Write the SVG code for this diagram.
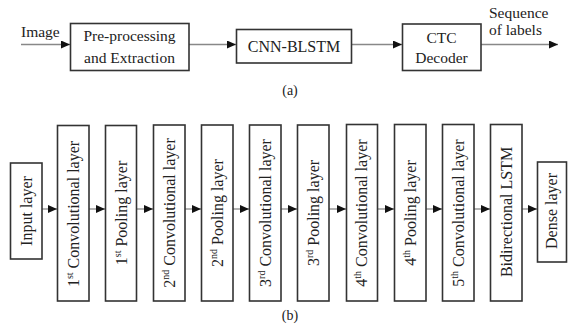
<svg xmlns="http://www.w3.org/2000/svg" width="568" height="328" viewBox="0 0 568 328">
<defs>
<marker id="ah" markerUnits="userSpaceOnUse" markerWidth="10" markerHeight="9" refX="9" refY="4" orient="auto">
<path d="M0,0 L9,4 L0,8 z" fill="#111"/>
</marker>
<style>
.box{fill:#fff;stroke:#333;stroke-width:1.6}
.t{font-family:"Liberation Serif","Times New Roman",serif;font-size:16px;fill:#222}
.c{text-anchor:middle}
.ln{stroke:#888;stroke-width:1.3;fill:none;marker-end:url(#ah)}
.sup{font-size:10px}
</style>
</defs>
<rect width="568" height="328" fill="#fff"/>

<g id="connectors">
<line class="ln" x1="21" y1="44.5" x2="70" y2="44.5"/>
<line class="ln" x1="189" y1="44.5" x2="236" y2="44.5"/>
<line class="ln" x1="352" y1="44.5" x2="402" y2="44.5"/>
<line class="ln" x1="481" y1="44.5" x2="558" y2="44.5"/>

<line class="ln" x1="42" y1="209" x2="57" y2="209"/>
<line class="ln" x1="89" y1="209" x2="105" y2="209"/>
<line class="ln" x1="137" y1="209" x2="153" y2="209"/>
<line class="ln" x1="185" y1="209" x2="201" y2="209"/>
<line class="ln" x1="233" y1="209" x2="249" y2="209"/>
<line class="ln" x1="281" y1="209" x2="297" y2="209"/>
<line class="ln" x1="329" y1="209" x2="346" y2="209"/>
<line class="ln" x1="378" y1="209" x2="394" y2="209"/>
<line class="ln" x1="426" y1="209" x2="442" y2="209"/>
<line class="ln" x1="474" y1="209" x2="490" y2="209"/>
<line class="ln" x1="522" y1="209" x2="537" y2="209"/>
</g>

<text class="t" x="21" y="37" style="font-size:15.5px">Image</text>
<text class="t" x="489" y="18" style="font-size:15.5px">Sequence</text>
<text class="t" x="489" y="35" style="font-size:15.5px">of labels</text>

<g id="preproc">
<rect class="box" x="70.5" y="23.5" width="118.5" height="47"/>
<text class="t c" x="129.5" y="40.5" style="font-size:15.5px">Pre-processing</text>
<text class="t c" x="129.5" y="62.5" style="font-size:15.5px">and Extraction</text>
</g>
<g id="cnnblstm">
<rect class="box" x="236.5" y="29.5" width="115" height="33.5"/>
<text class="t c" x="294" y="51.5">CNN-BLSTM</text>
</g>
<g id="ctc">
<rect class="box" x="402.5" y="24" width="78.5" height="46.5"/>
<text class="t c" x="441.5" y="42.5" style="font-size:15.5px">CTC</text>
<text class="t c" x="441.5" y="63" style="font-size:15.5px">Decoder</text>
</g>
<text class="t c" x="290" y="95" style="font-size:14px">(a)</text>

<g id="input">
<rect class="box" x="10.5" y="163" width="31.5" height="96"/>
<text class="t c" transform="translate(31.5,211) rotate(-90)">Input layer</text>
</g>
<g id="conv1">
<rect class="box" x="57.5" y="125.5" width="31.5" height="175.5"/>
<text class="t c" transform="translate(78.5,214) rotate(-90)">1<tspan class="sup" dy="-6">st</tspan><tspan dy="6"> Convolutional layer</tspan></text>
</g>
<g id="pool1">
<rect class="box" x="105.5" y="125.5" width="31" height="175.5"/>
<text class="t c" transform="translate(126.5,213) rotate(-90)">1<tspan class="sup" dy="-6">st</tspan><tspan dy="6"> Pooling layer</tspan></text>
</g>
<g id="conv2">
<rect class="box" x="153.5" y="125" width="31.5" height="176"/>
<text class="t c" transform="translate(174.5,213) rotate(-90)">2<tspan class="sup" dy="-6">nd</tspan><tspan dy="6"> Convolutional layer</tspan></text>
</g>
<g id="pool2">
<rect class="box" x="201.5" y="125" width="31.5" height="176"/>
<text class="t c" transform="translate(222.5,213) rotate(-90)">2<tspan class="sup" dy="-6">nd</tspan><tspan dy="6"> Pooling layer</tspan></text>
</g>
<g id="conv3">
<rect class="box" x="249.5" y="125" width="31.5" height="176"/>
<text class="t c" transform="translate(270.5,213) rotate(-90)">3<tspan class="sup" dy="-6">rd</tspan><tspan dy="6"> Convolutional layer</tspan></text>
</g>
<g id="pool3">
<rect class="box" x="297.5" y="125" width="31.5" height="176"/>
<text class="t c" transform="translate(318.5,213) rotate(-90)">3<tspan class="sup" dy="-6">rd</tspan><tspan dy="6"> Pooling layer</tspan></text>
</g>
<g id="conv4">
<rect class="box" x="346.5" y="124.5" width="31" height="176.5"/>
<text class="t c" transform="translate(367,213) rotate(-90)">4<tspan class="sup" dy="-6">th</tspan><tspan dy="6"> Convolutional layer</tspan></text>
</g>
<g id="pool4">
<rect class="box" x="394.5" y="124.5" width="31.5" height="176.5"/>
<text class="t c" transform="translate(415.5,213) rotate(-90)">4<tspan class="sup" dy="-6">th</tspan><tspan dy="6"> Pooling layer</tspan></text>
</g>
<g id="conv5">
<rect class="box" x="442.5" y="124.5" width="31.5" height="176.5"/>
<text class="t c" transform="translate(463.5,213) rotate(-90)">5<tspan class="sup" dy="-6">th</tspan><tspan dy="6"> Convolutional layer</tspan></text>
</g>
<g id="bilstm">
<rect class="box" x="490.5" y="124.5" width="31.5" height="176.5"/>
<text class="t c" transform="translate(511.5,212) rotate(-90)">Bidirectional LSTM</text>
</g>
<g id="dense">
<rect class="box" x="537.5" y="162" width="29" height="100"/>
<text class="t c" transform="translate(557,211) rotate(-90)">Dense layer</text>
</g>
<text class="t c" x="290" y="320" style="font-size:14px">(b)</text>
</svg>
